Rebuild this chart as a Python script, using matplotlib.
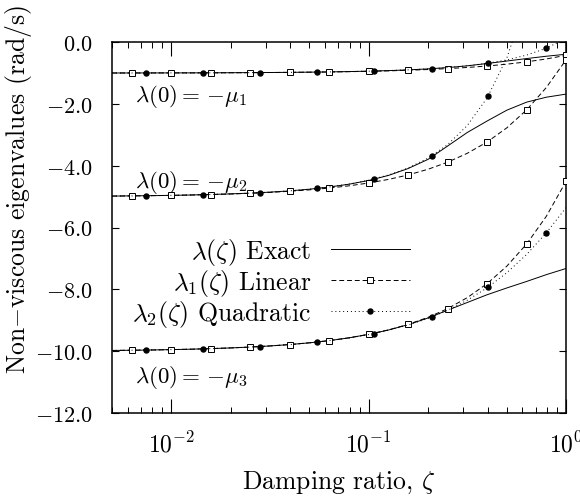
import numpy as np
import matplotlib
matplotlib.use("Agg")
import matplotlib.pyplot as plt
from matplotlib.ticker import FuncFormatter, LogLocator, FixedLocator

plt.rcParams["font.family"] = "serif"
plt.rcParams["font.serif"] = ["cmr10"]
plt.rcParams["mathtext.fontset"] = "cm"
plt.rcParams["axes.formatter.use_mathtext"] = True

# damping ratio grid (0.1 decade steps)
zeta = [0.00501, 0.00631, 0.00794, 0.0100, 0.0126, 0.0158, 0.0200, 0.0251,
        0.0316, 0.0398, 0.0501, 0.0631, 0.0794, 0.100, 0.126, 0.158,
        0.200, 0.251, 0.316, 0.398, 0.501, 0.631, 0.794, 1.000]

# exact eigenvalues
exact_1 = [-0.997, -0.996, -0.995, -0.994, -0.993, -0.991, -0.988, -0.985,
           -0.981, -0.976, -0.970, -0.962, -0.951, -0.937, -0.920, -0.897,
           -0.864, -0.822, -0.765, -0.690, -0.610, -0.530, -0.455, -0.390]
exact_2 = [-4.978, -4.972, -4.964, -4.955, -4.943, -4.927, -4.907, -4.883,
           -4.851, -4.810, -4.756, -4.686, -4.595, -4.473, -4.310, -4.090,
           -3.790, -3.360, -2.920, -2.550, -2.200, -1.940, -1.780, -1.680]
exact_3 = [-9.973, -9.965, -9.957, -9.945, -9.931, -9.913, -9.890, -9.862,
           -9.826, -9.781, -9.725, -9.653, -9.565, -9.450, -9.310, -9.140,
           -8.920, -8.670, -8.420, -8.170, -7.950, -7.740, -7.520, -7.320]

# first-order approximation
linear_1 = [-0.997, -0.996, -0.995, -0.994, -0.993, -0.991, -0.989, -0.986,
            -0.982, -0.977, -0.971, -0.964, -0.954, -0.943, -0.928, -0.909,
            -0.885, -0.856, -0.818, -0.771, -0.712, -0.637, -0.543, -0.425]
linear_2 = [-4.978, -4.972, -4.965, -4.956, -4.944, -4.930, -4.911, -4.888,
            -4.859, -4.823, -4.777, -4.719, -4.647, -4.555, -4.439, -4.297,
            -4.110, -3.883, -3.594, -3.229, -2.771, -2.192, -1.467, -0.570]
linear_3 = [-9.972, -9.965, -9.956, -9.945, -9.931, -9.913, -9.890, -9.862,
            -9.826, -9.781, -9.724, -9.653, -9.563, -9.450, -9.307, -9.131,
            -8.900, -8.620, -8.262, -7.811, -7.245, -6.530, -5.633, -4.500]

# second-order approximation
quad_1 = [-0.997, -0.996, -0.995, -0.994, -0.993, -0.991, -0.988, -0.985,
          -0.981, -0.976, -0.970, -0.962, -0.951, -0.937, -0.919, -0.895,
          -0.863, -0.821, -0.763, -0.684, -0.574, -0.418, -0.196, 0.125]
quad_2 = [-4.978, -4.972, -4.964, -4.955, -4.943, -4.927, -4.907, -4.883,
          -4.850, -4.809, -4.754, -4.683, -4.590, -4.465, -4.296, -4.072,
          -3.750, -3.316, -2.694, -1.803, -0.511, 1.390, 4.200, 8.450]
quad_3 = [-9.972, -9.965, -9.956, -9.945, -9.931, -9.913, -9.890, -9.862,
          -9.827, -9.782, -9.726, -9.656, -9.568, -9.459, -9.320, -9.152,
          -8.934, -8.673, -8.347, -7.946, -7.458, -6.868, -6.169, -5.350]

# second-order approximation at the marked points
zeta_dots = [0.00743, 0.01445, 0.0281, 0.0549, 0.1064, 0.2085, 0.4036, 0.7925]
quad_dots_1 = [-0.996, -0.992, -0.983, -0.967, -0.933, -0.856, -0.678, -0.199]
quad_dots_2 = [-4.966, -4.934, -4.868, -4.729, -4.425, -3.681, -1.738, 4.170]
quad_dots_3 = [-9.959, -9.921, -9.846, -9.701, -9.424, -8.890, -7.919, -6.175]

y_ticks = [0.0, -2.0, -4.0, -6.0, -8.0, -10.0, -12.0]
mode_labels = [r"$\lambda(0) = \,{-}\mu_1$", r"$\lambda(0) = \,{-}\mu_2$",
               r"$\lambda(0) = \,{-}\mu_3$"]

fig = plt.figure(figsize=(5.8, 5.02), dpi=100)
ax = fig.add_axes([0.193, 0.175, 0.783, 0.739])

lw = 0.7
sq = dict(marker="s", markersize=5, markerfacecolor="white",
          markeredgecolor="black", markeredgewidth=0.7)
exact_sets = [exact_1, exact_2, exact_3]
linear_sets = [linear_1, linear_2, linear_3]
quad_sets = [quad_1, quad_2, quad_3]
dot_sets = [quad_dots_1, quad_dots_2, quad_dots_3]

for i in range(3):
    ax.plot(zeta, exact_sets[i], color="black", lw=lw, ls="-",
            label=r"$\lambda(\zeta)$ Exact" if i == 0 else None, zorder=3)
    ax.plot(zeta, linear_sets[i], color="black", lw=lw, ls=(0, (5, 3)),
            markevery=slice(1, None, 2), zorder=4, **sq)
    ax.plot(zeta, quad_sets[i], color="black", lw=lw, ls=(0, (1, 3)), zorder=4)
    ax.plot(zeta_dots, dot_sets[i], ls="none", marker="o", markersize=3.6,
            color="black", zorder=5)

# legend handles
ax.plot([], [], color="black", lw=lw, ls=(0, (5, 3)),
        label=r"$\lambda_1(\zeta)$ Linear", **sq)
ax.plot([], [], color="black", lw=lw, ls=(0, (1, 3)), marker="o",
        markersize=3.6, label=r"$\lambda_2(\zeta)$ Quadratic")

ax.set_xscale("log")
ax.set_xlim(0.005, 1.0)
ax.set_ylim(-12.0, 0.0)
ax.yaxis.set_major_locator(FixedLocator(y_ticks))
ax.yaxis.set_major_formatter(FuncFormatter(lambda v, p: r"$%.1f$" % v))
ax.xaxis.set_major_locator(LogLocator(base=10, numticks=10))
ax.xaxis.set_minor_locator(LogLocator(base=10, subs=np.arange(2, 10), numticks=10))
ax.xaxis.set_minor_formatter(FuncFormatter(lambda v, p: ""))

ax.tick_params(axis="x", which="major", direction="in", length=10, width=0.8,
               top=True, bottom=True, labelsize=17, pad=13)
ax.tick_params(axis="x", which="minor", direction="in", length=4.5, width=0.7,
               top=True, bottom=True)
ax.tick_params(axis="y", which="major", direction="in", length=5, width=0.8,
               left=True, right=True, labelsize=16, pad=14)
ax.tick_params(axis="y", which="minor", left=False, right=False)
for s in ax.spines.values():
    s.set_linewidth(1.1)

ax.set_xlabel(r"Damping ratio, $\zeta$", fontsize=18.5)
ax.xaxis.set_label_coords(0.5, -0.150)
ax.set_ylabel(r"Non$-$viscous eigenvalues (rad/s)", fontsize=18.5)
ax.yaxis.set_label_coords(-0.172, 0.606)

label_pos = [(0.00656, -1.72), (0.00656, -4.50), (0.00656, -10.80)]
for (lx, ly), txt in zip(label_pos, mode_labels):
    ax.text(lx, ly, txt, fontsize=16.5, ha="left", va="center")

ax.legend(loc="center right", bbox_to_anchor=(0.695, 0.353), frameon=False,
          markerfirst=False, fontsize=18.5, handlelength=3.05, handletextpad=0.77,
          labelspacing=0.0, borderpad=0.2, numpoints=1)

fig.savefig("out.png", dpi=100)
